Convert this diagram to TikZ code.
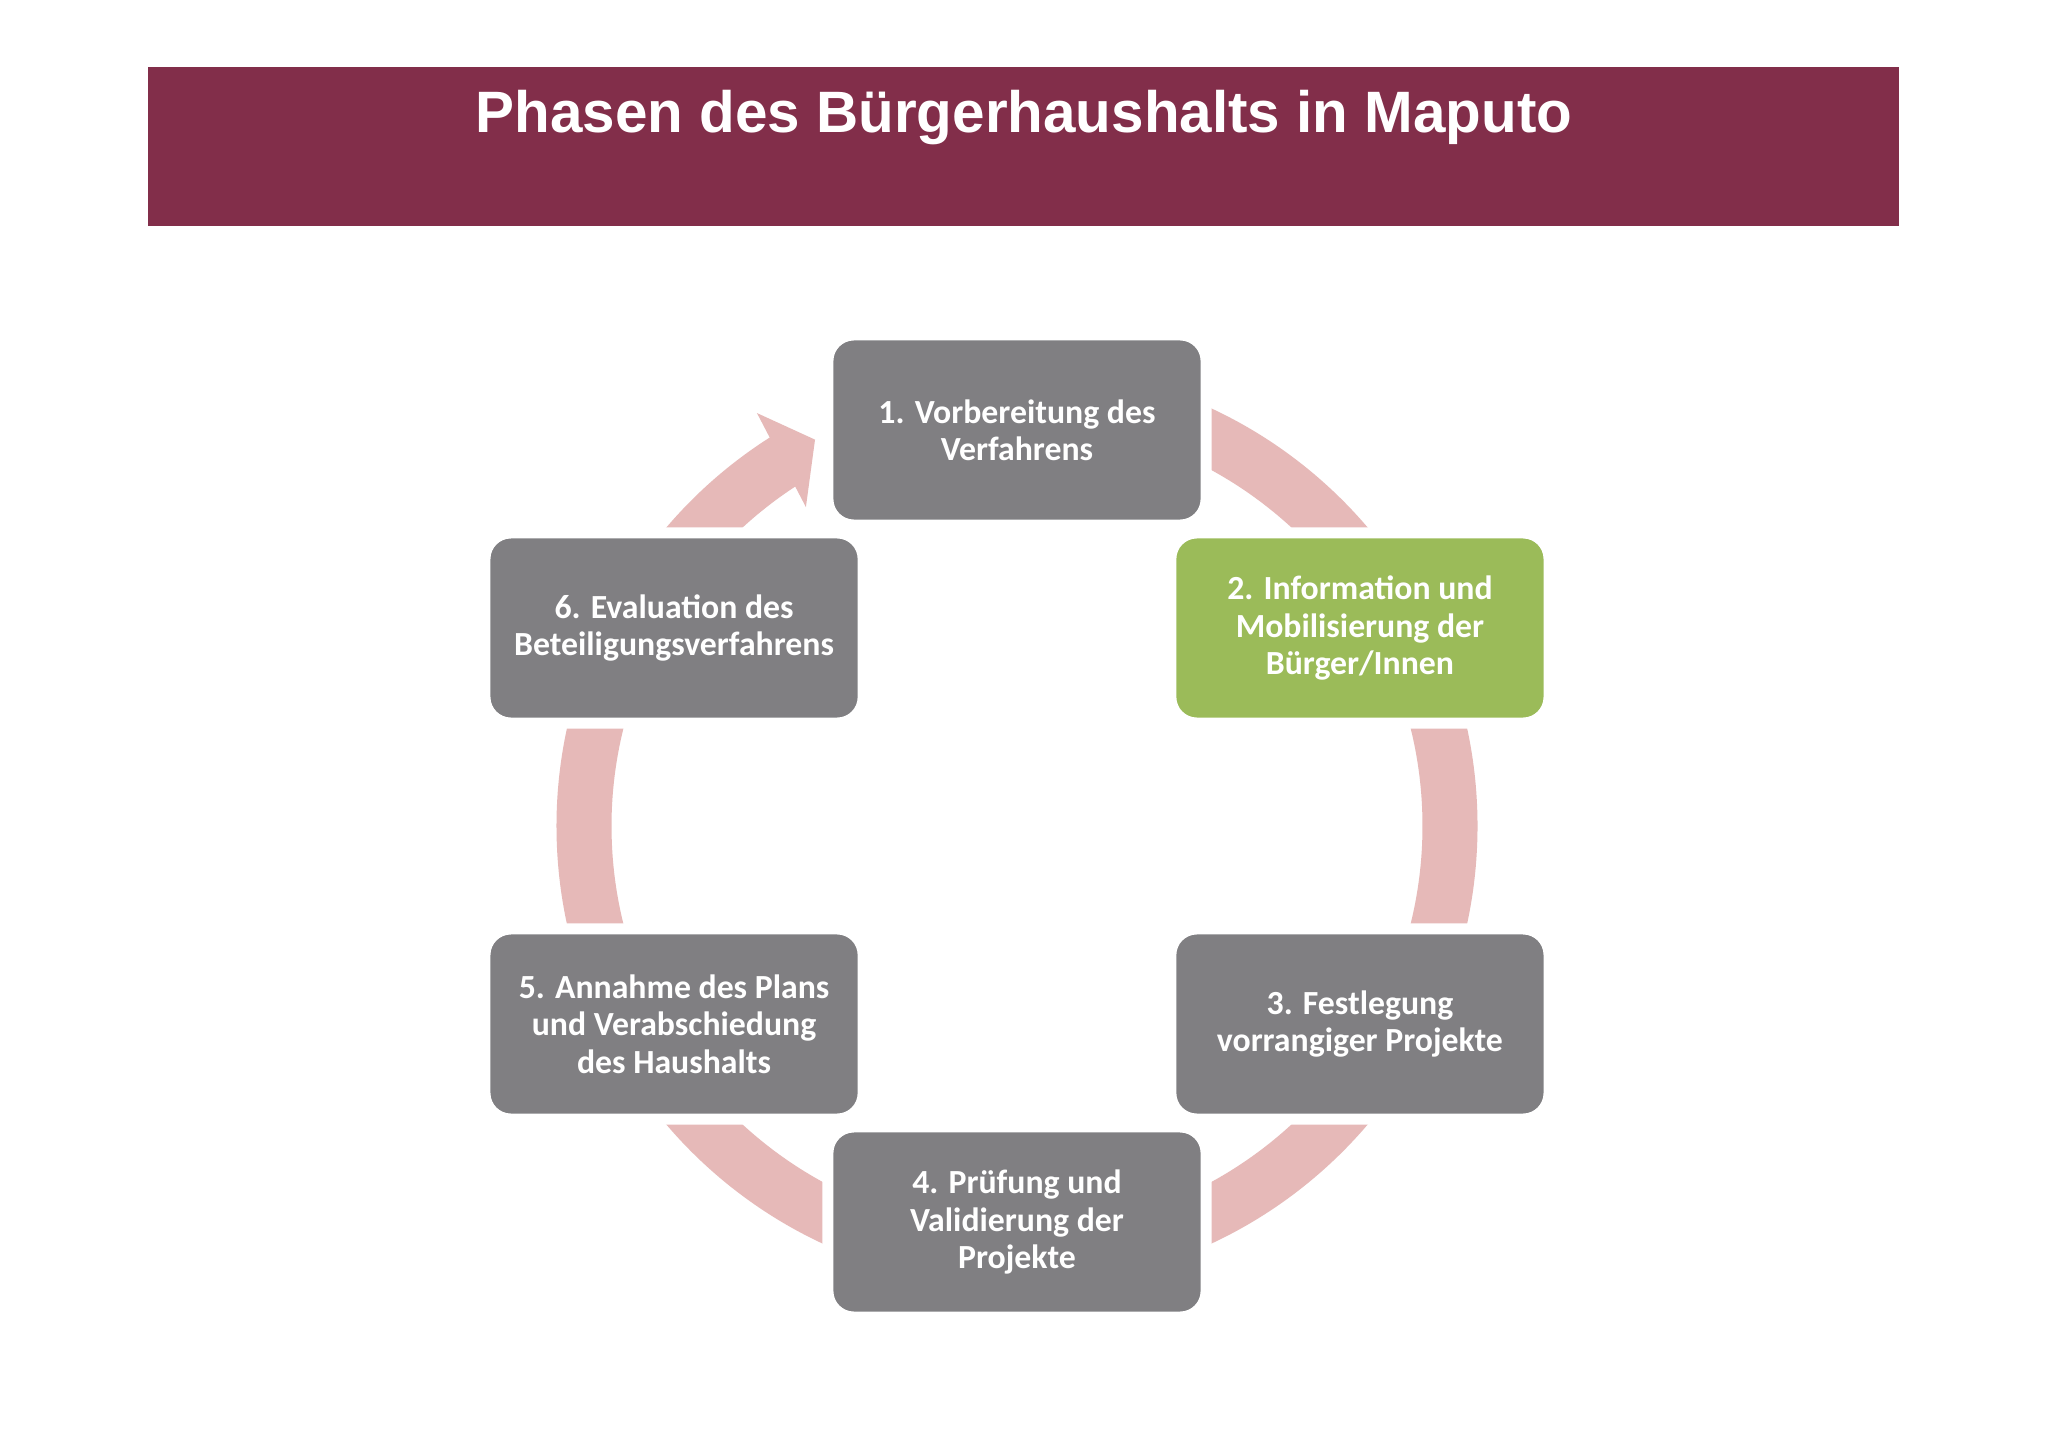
\documentclass[tikz,border=0pt]{standalone}
\usepackage{fontspec}
\usetikzlibrary{calc}
\setmainfont{Carlito}
\newfontfamily\titlefont{Liberation Sans}
\definecolor{titlebar}{RGB}{130,46,74}
\definecolor{boxgray}{RGB}{128,127,130}
\definecolor{boxgreen}{RGB}{155,187,89}
\definecolor{ringpink}{RGB}{230,185,184}
\tikzset{
  phase/.style={rectangle, rounded corners=0.26cm, fill=boxgray, draw=white, line width=0.11cm,
    minimum width=3.78cm, minimum height=1.90cm, align=center, text=white,
    font=\fontsize{9.6pt}{10.6pt}\selectfont\bfseries},
  ring/.style={draw=ringpink, line width=0.55cm},
}
\begin{document}
\begin{tikzpicture}[x=0.01cm,y=0.01cm]
\useasboundingbox (0,0) rectangle (2048,1447);
\fill[white] (0,0) rectangle (2048,1447);
% title bar
\fill[titlebar] (148,1221) rectangle (1899,1380);
\node[anchor=base, text=white, font=\fontsize{16.6pt}{20pt}\titlefont\bfseries] (title) at (1024,1314) {Phasen des Bürgerhaushalts in Maputo};
% ring
\coordinate (C) at (1017,621);
\draw[ring] ($(C)+(90:433)$) arc[start angle=90, end angle=-237.7, radius=433];
\fill[ringpink] ($(C)+(117.6:436)$) -- ($(C)+(122.2:488)$) -- ($(C)+(123.5:382.5)$) -- cycle;
% boxes
\node[phase] (p1) at ($(C)+(90:396)$) {1. Vorbereitung des\\Verfahrens};
\node[phase, fill=boxgreen] (p2) at ($(C)+(30:396)$) {2. Information und\\Mobilisierung der\\Bürger/Innen};
\node[phase] (p3) at ($(C)+(-30:396)$) {3. Festlegung\\vorrangiger Projekte};
\node[phase] (p4) at ($(C)+(-90:396)$) {4. Prüfung und\\Validierung der\\Projekte};
\node[phase] (p5) at ($(C)+(-150:396)$) {5. Annahme des Plans\\und Verabschiedung\\des Haushalts};
\node[phase] (p6) at ($(C)+(150:396)$) {6. Evaluation des\\Beteiligungsverfahrens};
\end{tikzpicture}
\end{document}
